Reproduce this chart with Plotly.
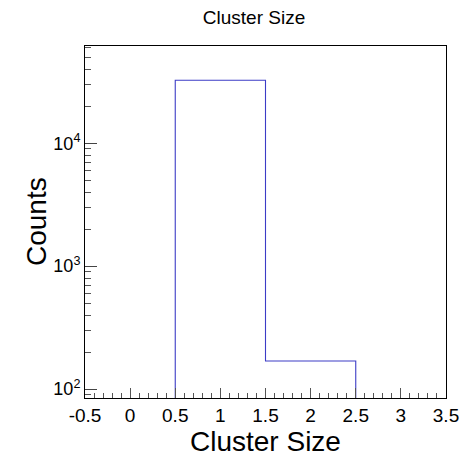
import math
import plotly.graph_objects as go

# Histogram contents (ROOT-style TH1, 4 bins from -0.5 to 3.5)
bin_edges = [-0.5, 0.5, 1.5, 2.5, 3.5]
counts = [0, 32600, 169, 0]

x_ticks = [-0.5, 0, 0.5, 1, 1.5, 2, 2.5, 3, 3.5]
x_tick_text = ["-0.5", "0", "0.5", "1", "1.5", "2", "2.5", "3", "3.5"]
y_ticks = [100, 1000, 10000]
y_tick_text = ["10<sup>2</sup>", "10<sup>3</sup>", "10<sup>4</sup>"]

y_min = 0.5 * min(c for c in counts if c > 0)
y_max = 61900

# Build the step outline of the non-empty bins
first = next(i for i, c in enumerate(counts) if c > 0)
last = max(i for i, c in enumerate(counts) if c > 0)
sx, sy = [bin_edges[first]], [y_min]
for i in range(first, last + 1):
    sx += [bin_edges[i], bin_edges[i + 1]]
    sy += [counts[i], counts[i]]
sx.append(bin_edges[last + 1])
sy.append(y_min)

# minor ticks: 2..9 x 10^n on y, every 0.1 on x
y_minor = [m * 10 ** e for e in range(1, 5) for m in range(2, 10)]
y_minor = [v for v in y_minor if y_min <= v <= y_max]
x_minor = [round(-0.5 + 0.1 * k, 2) for k in range(41)]

FONT = "Liberation Sans, Arial, Helvetica, sans-serif"
LINE = "#3c3cc6"

fig = go.Figure()
fig.add_trace(go.Scatter(
    x=sx, y=sy, mode="lines",
    line=dict(color=LINE, width=1.1),
    hoverinfo="skip", showlegend=False, cliponaxis=True,
))

fig.update_layout(
    width=473, height=457,
    margin=dict(l=85, r=27, t=46, b=59),
    paper_bgcolor="white", plot_bgcolor="white",
    font=dict(family=FONT, color="black", size=18),
    title=dict(text="Cluster Size", font=dict(size=19, family=FONT, color="black"),
               x=254 / 473, xanchor="center", xref="container",
               y=1 - 17 / 457, yanchor="middle", yref="container"),
    showlegend=False,
)

fig.update_xaxes(
    range=[-0.5, 3.5], showgrid=False, zeroline=False,
    showline=True, linecolor="black", linewidth=1, mirror=True,
    tickmode="array", tickvals=x_ticks, ticktext=x_tick_text,
    ticks="inside", ticklen=10, tickwidth=1, tickcolor="#555",
    tickfont=dict(size=19, family=FONT),
    minor=dict(tickmode="array", tickvals=x_minor, ticks="inside",
               ticklen=5, tickwidth=1, tickcolor="#555"),
)
fig.update_yaxes(
    type="log", range=[math.log10(y_min), math.log10(y_max)],
    showgrid=False, zeroline=False,
    showline=True, linecolor="black", linewidth=1, mirror=True,
    tickmode="array", tickvals=y_ticks, ticktext=y_tick_text,
    ticks="inside", ticklen=12, tickwidth=1, tickcolor="#444",
    tickfont=dict(size=18, family=FONT),
    minor=dict(tickmode="array", tickvals=y_minor, ticks="inside",
               ticklen=6, tickwidth=1, tickcolor="#555"),
)

# axis titles
fig.add_annotation(text="Cluster Size", xref="paper", yref="paper",
                   x=0.5, y=0, yshift=-43, xanchor="center", yanchor="middle",
                   showarrow=False, font=dict(size=28, family=FONT, color="black"))
fig.add_annotation(text="Counts", xref="paper", yref="paper",
                   x=0, y=0.5, xshift=-49, xanchor="center", yanchor="middle",
                   textangle=-90, showarrow=False,
                   font=dict(size=28, family=FONT, color="black"))

fig.write_html("out.html")
